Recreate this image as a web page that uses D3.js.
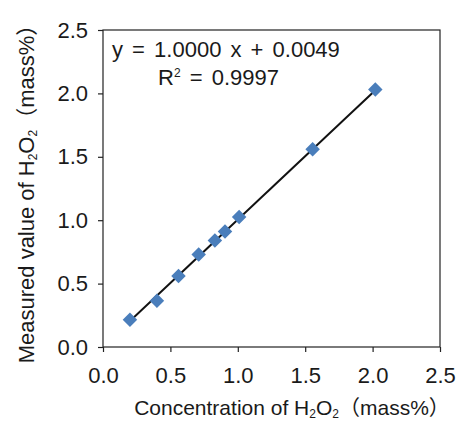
<!DOCTYPE html>
<html>
<head>
<meta charset="utf-8">
<script src="https://cdn.jsdelivr.net/npm/d3@7"></script>
<style>
  body { margin: 0; background: #fff; }
  svg text { font-family: "Liberation Sans", Arial, "Noto Sans CJK JP", sans-serif; fill: #1a1a1a; }
</style>
</head>
<body>
<div id="chart"></div>
<script>
// values
const concentration = [0.20, 0.40, 0.56, 0.71, 0.83, 0.905, 1.01, 1.555, 2.02];
const measured = [0.215, 0.365, 0.56, 0.73, 0.84, 0.91, 1.025, 1.56, 2.03];
const xTicks = [0, 0.5, 1.0, 1.5, 2.0, 2.5];
const yTicks = [0, 0.5, 1.0, 1.5, 2.0, 2.5];
const slope = 1.0000, intercept = 0.0049, r2 = 0.9997;

const width = 457, height = 421;
const margin = {top: 30, right: 17, bottom: 74, left: 103};

const svg = d3.select("#chart").append("svg")
  .attr("width", width)
  .attr("height", height);

const x = d3.scaleLinear().domain([0, 2.5]).range([margin.left, width - margin.right]);
const y = d3.scaleLinear().domain([0, 2.5]).range([height - margin.bottom, margin.top]);

// frame
svg.append("rect")
  .attr("x", x(0)).attr("y", y(2.5))
  .attr("width", x(2.5) - x(0)).attr("height", y(0) - y(2.5))
  .attr("fill", "none").attr("stroke", "#222").attr("stroke-width", 1.2);

// axes
const xAxis = svg.append("g")
  .attr("transform", `translate(0,${y(0)})`)
  .call(d3.axisBottom(x).tickValues(xTicks).tickFormat(d3.format(".1f")).tickSize(5).tickPadding(15));
const yAxis = svg.append("g")
  .attr("transform", `translate(${x(0)},0)`)
  .call(d3.axisLeft(y).tickValues(yTicks).tickFormat(d3.format(".1f")).tickSize(5).tickPadding(10));

[xAxis, yAxis].forEach(g => {
  g.select(".domain").remove();
  g.selectAll("line").attr("stroke", "#222").attr("stroke-width", 1.2);
  g.selectAll("text").attr("font-size", 22).attr("fill", "#1a1a1a")
    .attr("font-family", '"Liberation Sans", Arial, sans-serif');
});

// trend line
const xMin = d3.min(concentration), xMax = d3.max(concentration);
svg.append("line")
  .attr("x1", x(xMin)).attr("y1", y(slope * xMin + intercept))
  .attr("x2", x(xMax)).attr("y2", y(slope * xMax + intercept))
  .attr("stroke", "#111").attr("stroke-width", 2);

// points
const pts = concentration.map((c, i) => [c, measured[i]]);
svg.append("g").selectAll("path")
  .data(pts)
  .join("path")
  .attr("d", d3.symbol(d3.symbolSquare, 105))
  .attr("transform", d => `translate(${x(d[0])},${y(d[1])}) rotate(45)`)
  .attr("fill", "#4a7ebb");

// equation
svg.append("text")
  .attr("x", 112).attr("y", 57)
  .attr("font-size", 22)
  .attr("word-spacing", 3)
  .text(`y = ${slope.toFixed(4)} x + ${intercept.toFixed(4)}`);
const r2Text = svg.append("text")
  .attr("x", 158).attr("y", 85)
  .attr("font-size", 22)
  .attr("word-spacing", 3);
r2Text.append("tspan").text("R");
r2Text.append("tspan").attr("font-size", 12).attr("dy", -8).text("2");
r2Text.append("tspan").attr("dy", 8).text(` = ${r2.toFixed(4)}`);

// axis titles
function title(sel) {
  sel.append("tspan").text("H");
  sel.append("tspan").attr("font-size", 12).attr("dy", 3).text("2");
  sel.append("tspan").attr("dy", -3).text("O");
  sel.append("tspan").attr("font-size", 12).attr("dy", 3).text("2");
  sel.append("tspan").attr("dy", -3).text("（mass%）");
}
const xt = svg.append("text")
  .attr("x", 292).attr("y", 415)
  .attr("text-anchor", "middle").attr("font-size", 21);
xt.append("tspan").text("Concentration of ");
title(xt);

const yt = svg.append("text")
  .attr("transform", `translate(34,${(y(0) + y(2.5)) / 2}) rotate(-90)`)
  .attr("text-anchor", "middle").attr("font-size", 22);
yt.append("tspan").text("Measured value of ");
title(yt);
</script>
</body>
</html>
